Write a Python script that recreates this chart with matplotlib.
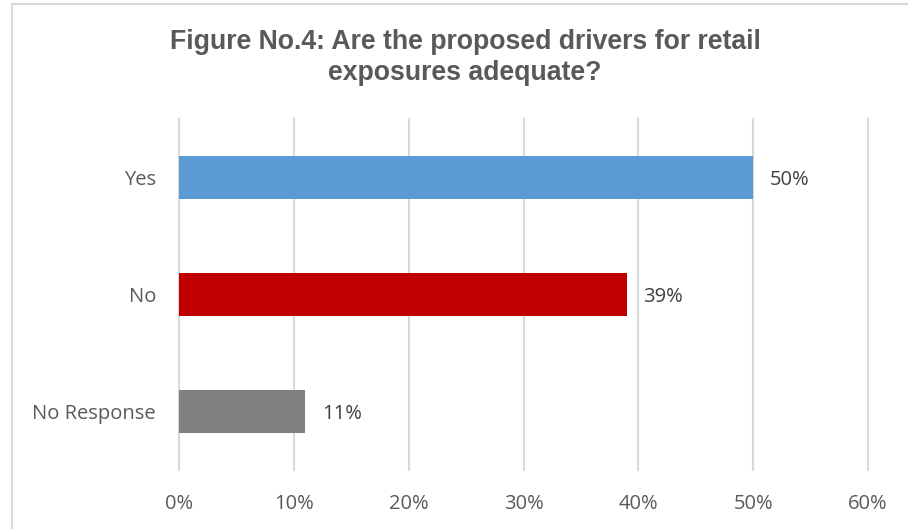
import matplotlib
matplotlib.use("Agg")
import matplotlib.pyplot as plt
from matplotlib.patches import Rectangle

categories = ["Yes", "No", "No Response"]
values = [50, 39, 11]
colors = ["#5B9BD5", "#C00000", "#808080"]
xticks = [0, 10, 20, 30, 40, 50, 60]
title_lines = ["Figure No.4: Are the proposed drivers for retail", "exposures adequate?"]

fig = plt.figure(figsize=(9.08, 5.29), dpi=100)
ax = fig.add_axes([179/908, 1-470/529, (868-179)/908, (470-119)/529])

ypos = list(range(len(categories)))
ax.barh(ypos, values, height=0.36, color=colors, zorder=3)
ax.set_ylim(2.5, -0.5)
ax.set_xlim(0, 60)
ax.set_xticks(xticks)
ax.set_xticklabels([f"{t}%" for t in xticks], fontsize=14.5, color="#595959", family="Open Sans")
ax.set_yticks(ypos)
ax.set_yticklabels(categories, fontsize=14.5, color="#595959", family="Open Sans")
ax.tick_params(axis="both", length=0)
ax.tick_params(axis="x", pad=17)
ax.tick_params(axis="y", pad=16.5)
ax.grid(axis="x", color="#D9D9D9", linewidth=1.5, zorder=0)
for gl in ax.xaxis.get_gridlines():
    gl.set_clip_on(False)
for s in ax.spines.values():
    s.set_visible(False)

for y, v in zip(ypos, values):
    ax.text(v + 1.45, y, f"{v}%", va="center_baseline", ha="left", fontsize=14.5,
            color="#404040", family="Open Sans")

for line, base in zip(title_lines, [49, 80]):
    fig.text(465/908, 1-base/529, line, ha="center", va="baseline", fontsize=19.2,
             fontweight="bold", color="#595959", family="Liberation Sans")

fig.patches.append(Rectangle((12/908, -0.01), 1.2, 1-4/529+0.01, transform=fig.transFigure,
                             fill=False, edgecolor="#D9D9D9", linewidth=1.5))

fig.savefig("out.png", dpi=100)
